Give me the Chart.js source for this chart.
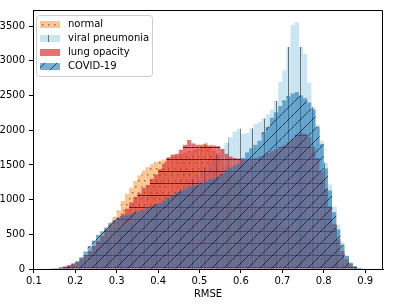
<!DOCTYPE html>
<html>
<head>
<meta charset="utf-8">
<script src="https://cdn.jsdelivr.net/npm/chart.js@4.4.1/dist/chart.umd.min.js"></script>
<style>
  html, body { margin: 0; padding: 0; background: #fff; }
  canvas { display: block; }
</style>
</head>
<body>
<canvas id="rmseChart" width="395" height="307"></canvas>
<script>
// histogram bins (bin centres, width 0.01)
const binCenters = [
  0.145, 0.155, 0.165, 0.175, 0.185, 0.195, 0.205, 0.215, 0.225, 0.235,
  0.245, 0.255, 0.265, 0.275, 0.285, 0.295, 0.305, 0.315, 0.325, 0.335,
  0.345, 0.355, 0.365, 0.375, 0.385, 0.395, 0.405, 0.415, 0.425, 0.435,
  0.445, 0.455, 0.465, 0.475, 0.485, 0.495, 0.505, 0.515, 0.525, 0.535,
  0.545, 0.555, 0.565, 0.575, 0.585, 0.595, 0.605, 0.615, 0.625, 0.635,
  0.645, 0.655, 0.665, 0.675, 0.685, 0.695, 0.705, 0.715, 0.725, 0.735,
  0.745, 0.755, 0.765, 0.775, 0.785, 0.795, 0.805, 0.815, 0.825, 0.835,
  0.845, 0.855, 0.865, 0.875, 0.885, 0.895
];

const normalCounts = [
  5, 10, 20, 35, 55, 80, 110, 150, 200, 260,
  330, 410, 490, 580, 670, 750, 840, 980, 1080, 1170,
  1270, 1350, 1420, 1470, 1510, 1540, 1560, 1580, 1600, 1620,
  1640, 1660, 1680, 1700, 1710, 1730, 1800, 1820, 1790, 1700,
  1650, 1580, 1500, 1420, 1340, 1260, 1180, 1100, 1030, 960,
  900, 840, 790, 740, 700, 660, 630, 600, 570, 540,
  510, 480, 440, 400, 350, 300, 250, 200, 150, 110,
  75, 45, 25, 10, 4, 0
];

const viralCounts = [
  0, 5, 10, 20, 40, 60, 90, 120, 160, 200,
  250, 300, 350, 400, 450, 500, 540, 580, 620, 660,
  700, 740, 780, 820, 860, 900, 940, 980, 1020, 1060,
  1100, 1150, 1200, 1250, 1300, 1350, 1400, 1460, 1520, 1590,
  1660, 1740, 1820, 1900, 1980, 2020, 1950, 1960, 2030, 2090,
  2120, 2170, 2230, 2300, 2420, 2700, 2860, 3200, 3520, 3560,
  3200, 3100, 2680, 2330, 2080, 1850, 1530, 1220, 900, 640,
  390, 190, 90, 40, 15, 5
];

const lungCounts = [
  5, 10, 20, 35, 55, 80, 110, 150, 200, 260,
  330, 400, 470, 560, 630, 690, 740, 800, 870, 960,
  1040, 1090, 1170, 1210, 1300, 1360, 1440, 1520, 1610, 1650,
  1660, 1720, 1790, 1860, 1810, 1790, 1780, 1790, 1770, 1780,
  1770, 1730, 1660, 1620, 1600, 1590, 1580, 1580, 1590, 1600,
  1620, 1640, 1670, 1700, 1730, 1760, 1790, 1830, 1870, 1930,
  1960, 1950, 1900, 1750, 1600, 1400, 1150, 900, 650, 430,
  260, 140, 70, 30, 10, 0
];

const covidCounts = [
  5, 10, 15, 25, 40, 60, 100, 170, 250, 330,
  410, 490, 545, 600, 660, 710, 740, 765, 780, 800,
  820, 835, 860, 890, 910, 935, 950, 990, 1030, 1060,
  1100, 1120, 1150, 1180, 1200, 1210, 1240, 1270, 1290, 1310,
  1330, 1370, 1420, 1460, 1490, 1520, 1600, 1680, 1740, 1790,
  1850, 1970, 2050, 2180, 2260, 2350, 2430, 2490, 2530, 2550,
  2500, 2460, 2400, 2300, 2050, 1800, 1450, 1130, 820, 570,
  350, 190, 90, 40, 15, 5
];

const xTicks = [0.1, 0.2, 0.3, 0.4, 0.5, 0.6, 0.7, 0.8, 0.9];
const yTicks = [0, 500, 1000, 1500, 2000, 2500, 3000, 3500];

// hatch patterns like matplotlib ('.', '|', '-', '/')
function hatch(rgb, alpha, kind) {
  const c = document.createElement('canvas');
  c.width = kind === 'dots' ? 6 : 12;
  c.height = 12;
  const g = c.getContext('2d');
  g.fillStyle = `rgba(${rgb},${alpha})`;
  g.fillRect(0, 0, c.width, c.height);
  g.strokeStyle = `rgba(0,0,0,${alpha})`;
  g.fillStyle = `rgba(0,0,0,${alpha})`;
  g.lineWidth = 1;
  if (kind === 'dots') {
    g.fillRect(0, 0, 1.5, 1.5);
    g.fillRect(3, 6, 1.5, 1.5);
  } else if (kind === 'vline') {
    g.beginPath(); g.moveTo(0.5, 0); g.lineTo(0.5, 12); g.stroke();
  } else if (kind === 'hline') {
    g.beginPath(); g.moveTo(0, 3.5); g.lineTo(12, 3.5); g.stroke();
  } else if (kind === 'diag') {
    g.beginPath();
    [-12, 0, 12].forEach(k => { g.moveTo(k, 12); g.lineTo(k + 12, 0); });
    g.stroke();
  }
  return g.createPattern(c, 'repeat');
}

const toPoints = arr => binCenters.map((x, i) => ({ x: x, y: arr[i] }));

const font = { family: 'DejaVu Sans', size: 10 };
// shift of the hatch inside each legend patch
const legendShift = [0, 0, 6, 0];

// legend inside axes + top/right spines
const framePlugin = {
  id: 'frame',
  afterDatasetsDraw(chart) {
    const { ctx, chartArea: a } = chart;
    ctx.save();
    ctx.strokeStyle = '#000';
    ctx.lineWidth = 1;
    ctx.beginPath();
    ctx.moveTo(Math.round(a.left) + 0.5, Math.round(a.top) + 0.5);
    ctx.lineTo(Math.round(a.right) - 0.5, Math.round(a.top) + 0.5);
    ctx.lineTo(Math.round(a.right) - 0.5, Math.round(a.bottom));
    ctx.stroke();

    // legend
    const bx = a.left + 3, by = a.top + 5, bw = 116, bh = 61;
    ctx.beginPath();
    ctx.roundRect(bx + 0.5, by + 0.5, bw, bh, 3);
    ctx.fillStyle = 'rgba(255,255,255,0.8)';
    ctx.fill();
    ctx.strokeStyle = '#cccccc';
    ctx.stroke();
    ctx.font = '10px "DejaVu Sans"';
    ctx.textBaseline = 'middle';
    chart.data.datasets.forEach((ds, i) => {
      const cy = by + 9 + 14.2 * i;
      const s = legendShift[i];
      ctx.save();
      ctx.translate(0, s);
      ctx.fillStyle = ds.backgroundColor;
      ctx.fillRect(bx + 4, Math.round(cy - 3.5) - s, 20, 7);
      ctx.restore();
      ctx.fillStyle = '#000';
      ctx.fillText(ds.label, bx + 32, cy);
    });
    ctx.restore();
  }
};

const canvas = document.getElementById('rmseChart');
const chart = new Chart(canvas, {
  type: 'bar',
  data: {
    datasets: [
      { label: 'normal', data: toPoints(normalCounts), order: 4,
        backgroundColor: hatch('255,127,14', 0.45, 'dots') },
      { label: 'viral pneumonia', data: toPoints(viralCounts), order: 3,
        backgroundColor: hatch('150,203,228', 0.5, 'vline') },
      { label: 'lung opacity', data: toPoints(lungCounts), order: 2,
        backgroundColor: hatch('214,39,40', 0.65, 'hline') },
      { label: 'COVID-19', data: toPoints(covidCounts), order: 1,
        backgroundColor: hatch('31,119,180', 0.6, 'diag') }
    ]
  },
  options: {
    responsive: false,
    animation: false,
    events: [],
    layout: { padding: { top: 7, right: 12, left: 0, bottom: 0 } },
    plugins: { legend: { display: false }, tooltip: { enabled: false } },
    datasets: {
      bar: { grouped: false, barPercentage: 1, categoryPercentage: 1, borderWidth: 0, inflateAmount: 0 }
    },
    scales: {
      x: {
        type: 'linear', min: 0.098, max: 0.943, offset: false,
        afterBuildTicks: axis => { axis.ticks = xTicks.map(v => ({ value: v })); },
        afterFit: axis => { axis.height = 38; },
        grid: { display: true, offset: false, drawOnChartArea: false, drawTicks: true, tickLength: 4, color: '#000' },
        border: { display: true, color: '#000', width: 1 },
        ticks: { color: '#000', font: font, padding: 2, maxRotation: 0, autoSkip: false,
                 callback: v => v.toFixed(1) },
        title: { display: true, text: 'RMSE', color: '#000', font: font, padding: { top: 0, bottom: 7 } }
      },
      y: {
        min: 0, max: 3733,
        afterBuildTicks: axis => { axis.ticks = yTicks.map(v => ({ value: v })); },
        afterFit: axis => { axis.width = 33; },
        grid: { display: true, drawOnChartArea: false, drawTicks: true, tickLength: 4, color: '#000' },
        border: { display: true, color: '#000', width: 1 },
        ticks: { color: '#000', font: font, padding: 4, autoSkip: false, callback: v => String(v) }
      }
    }
  },
  plugins: [framePlugin]
});
</script>
</body>
</html>
